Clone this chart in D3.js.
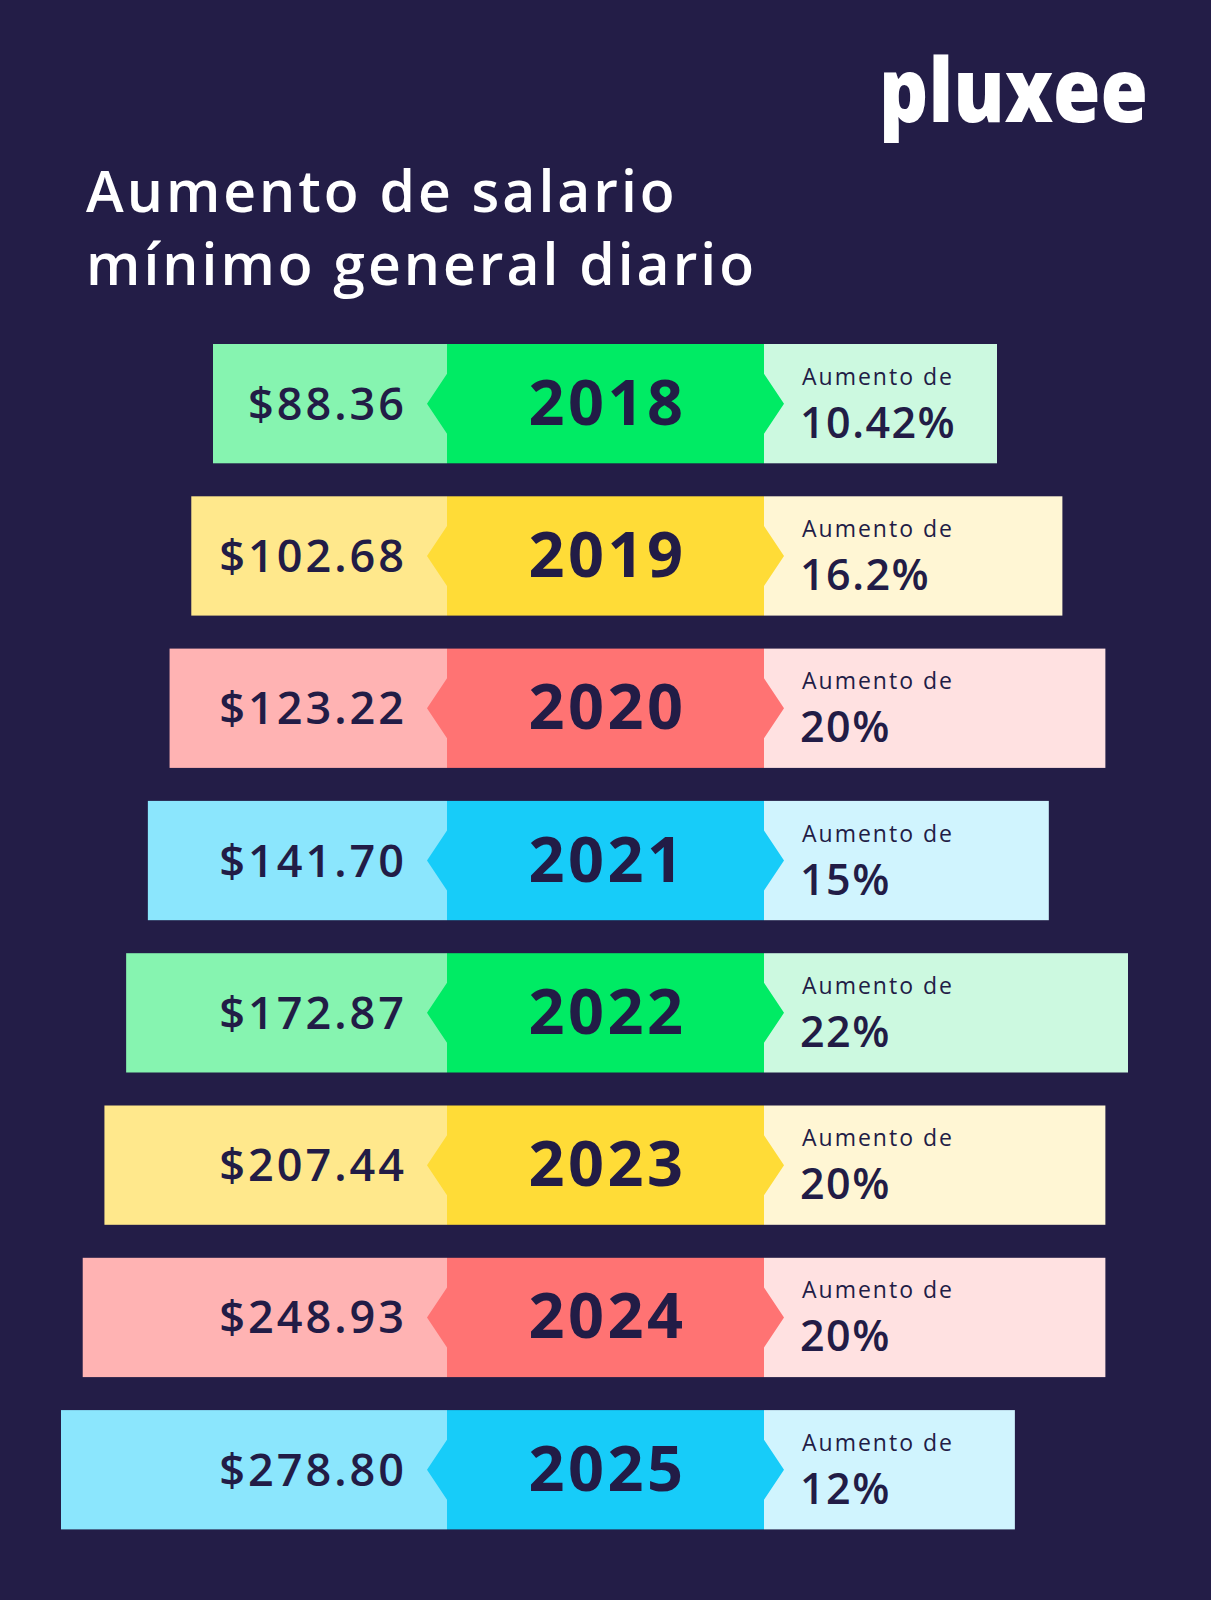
<!DOCTYPE html>
<html><head><meta charset="utf-8">
<script src="https://cdn.jsdelivr.net/npm/d3@7"></script>
<style>body{margin:0;background:#231d47}svg{display:block}</style>
</head><body><svg id="c" width="1211" height="1600"></svg>
<script>
const years = ["2018","2019","2020","2021","2022","2023","2024","2025"];
const salaries = [88.36,102.68,123.22,141.70,172.87,207.44,248.93,278.80];
const salaryLabels = ["$88.36","$102.68","$123.22","$141.70","$172.87","$207.44","$248.93","$278.80"];
const increases = [10.42,16.2,20,15,22,20,20,12];
const increaseLabels = ["10.42%","16.2%","20%","15%","22%","20%","20%","12%"];
const themes = ["green","yellow","red","blue","green","yellow","red","blue"];
const palette = {
  green:["#86f4b0","#00eb64","#ccf9e0"],
  yellow:["#ffe88c","#ffdc37","#fff6d4"],
  red:["#ffb3b3","#ff7373","#ffe1e1"],
  blue:["#8be6fd","#17ccf9","#d0f4fe"]
};
const ink="#221c46", font="'Open Sans', sans-serif";
const svg=d3.select("#c");
svg.append("rect").attr("width",1211).attr("height",1600).attr("fill","#231d47");
svg.append("text").attr("x",879).attr("y",122).attr("fill","#fff").attr("font-family",font)
  .attr("font-weight",800).attr("font-size",88).attr("textLength",269).attr("lengthAdjust","spacingAndGlyphs").text("pluxee");
const title=svg.append("text").attr("fill","#fff").attr("font-family",font).attr("font-weight",600).attr("font-size",57).attr("letter-spacing",3);
title.append("tspan").attr("x",86).attr("y",212).text("Aumento de salario");
title.append("tspan").attr("x",86).attr("y",285).text("mínimo general diario");

const y=d3.scaleBand().domain(years).range([344,344+152.3*8-33]).paddingInner(33/152.3).paddingOuter(0);
const midL=447, midR=764;
const leftW=d3.scaleLinear().domain([0,7]).range([234,386]);
const rightW=d3.scaleLinear().domain([10.42,22]).range([233,364]);
const g=svg.selectAll("g.row").data(years.map((yr,i)=>({yr,i}))).join("g").attr("class","row")
  .attr("transform",d=>`translate(0,${y(d.yr)})`);
const h=y.bandwidth(), cy=h/2;
g.append("rect").attr("x",d=>midL-leftW(d.i)).attr("width",d=>leftW(d.i)).attr("height",h).attr("fill",d=>palette[themes[d.i]][0]);
g.append("rect").attr("x",midR).attr("width",d=>rightW(increases[d.i])).attr("height",h).attr("fill",d=>palette[themes[d.i]][2]);
g.append("rect").attr("x",midL).attr("width",midR-midL).attr("height",h).attr("fill",d=>palette[themes[d.i]][1]);
g.append("path").attr("d",`M${midL},${cy-30}L${midL-20},${cy}L${midL},${cy+30}Z M${midR},${cy-30}L${midR+20},${cy}L${midR},${cy+30}Z`)
  .attr("fill",d=>palette[themes[d.i]][1]);
g.append("text").attr("x",407).attr("y",cy+16).attr("text-anchor","end").attr("fill",ink).attr("font-family",font)
  .attr("font-weight",600).attr("font-size",45).attr("letter-spacing",3).text(d=>salaryLabels[d.i]);
g.append("text").attr("x",(midL+midR)/2+2).attr("y",cy+21).attr("text-anchor","middle").attr("fill",ink).attr("font-family",font)
  .attr("font-weight",700).attr("font-size",63).attr("letter-spacing",3.5).text(d=>d.yr);
g.append("text").attr("x",802).attr("y",cy-19).attr("fill",ink).attr("font-family",font)
  .attr("font-weight",500).attr("font-size",23).attr("letter-spacing",2).text("Aumento de");
g.append("text").attr("x",800).attr("y",cy+34).attr("fill",ink).attr("font-family",font)
  .attr("font-weight",600).attr("font-size",43).attr("letter-spacing",1.5).text(d=>increaseLabels[d.i]);
</script></body></html>
